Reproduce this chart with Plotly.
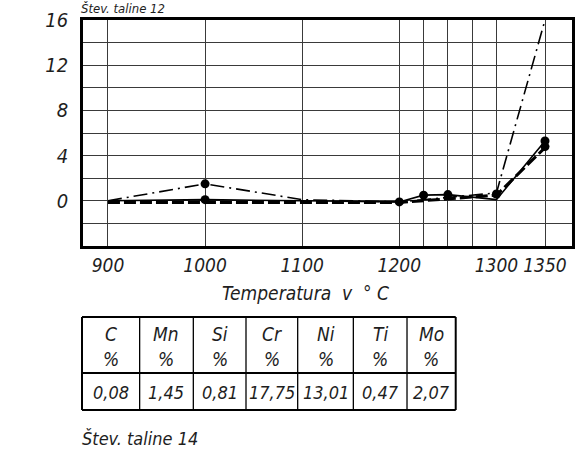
import plotly.graph_objects as go

# ---- data ----
temp_solid = [900, 1000, 1100, 1200, 1225, 1250, 1300, 1350]
val_solid = [0.0, 0.1, 0.0, -0.1, 0.5, 0.55, 0.1, 5.3]
temp_dash = [900, 1000, 1100, 1200, 1300, 1350]
val_dash = [-0.15, -0.15, -0.15, -0.15, 0.5, 4.7]
temp_dashdot = [900, 1000, 1100, 1200, 1300, 1350]
val_dashdot = [0.0, 1.5, 0.1, -0.1, 0.7, 16.0]

marker_temps = [1000, 1000, 1200, 1225, 1250, 1300, 1350, 1350]
marker_vals = [1.5, 0.1, -0.1, 0.5, 0.55, 0.6, 5.3, 4.8]

x_grid = [900, 1000, 1100, 1200, 1225, 1250, 1275, 1300, 1350]
x_labels = ["900", "1000", "1100", "1200", "", "", "", "1300", "1350"]
y_grid = [-2, 0, 2, 4, 6, 8, 10, 12, 14, 16]
y_labels = ["", "0", "", "4", "", "8", "", "12", "", "16"]

elements = ["C", "Mn", "Si", "Cr", "Ni", "Ti", "Mo"]
contents = ["0,08", "1,45", "0,81", "17,75", "13,01", "0,47", "2,07"]

x_title = "Temperatura  v  ° C"
top_caption = "Štev. taline 12"
bottom_caption = "Štev. taline 14"

FONT = "DejaVu Sans Condensed, DejaVu Sans"
W, H = 583, 460
L, R, T, B = 83, 575, 20, 246
INK = "#1e1e1e"


def px(x):
    return (x - L) / (R - L)


def py(y):
    return (B - y) / (B - T)


fig = go.Figure()
fig.add_trace(go.Scatter(x=temp_dashdot, y=val_dashdot, mode="lines",
                         line=dict(color="black", width=1.6, dash="14px,5px,2px,5px"),
                         showlegend=False))
fig.add_trace(go.Scatter(x=temp_dash, y=val_dash, mode="lines",
                         line=dict(color="black", width=3, dash="12px,4px"),
                         showlegend=False))
fig.add_trace(go.Scatter(x=temp_solid, y=val_solid, mode="lines",
                         line=dict(color="black", width=1.6),
                         showlegend=False))
fig.add_trace(go.Scatter(x=marker_temps, y=marker_vals, mode="markers",
                         marker=dict(color="black", size=9),
                         showlegend=False))

fig.update_xaxes(range=[874.3, 1377.8], tickvals=x_grid, ticktext=x_labels,
                 showgrid=True, gridcolor="#3a3a3a", gridwidth=1,
                 showline=True, linecolor="black", linewidth=2.5, mirror=True,
                 zeroline=False, ticks="", ticklen=0, tickangle=0,
                 tickfont=dict(family=FONT, size=19, style="italic", color=INK))
fig.update_yaxes(range=[-4, 16], tickvals=y_grid, ticktext=y_labels,
                 showgrid=True, gridcolor="#3a3a3a", gridwidth=1,
                 showline=True, linecolor="black", linewidth=2.5, mirror=True,
                 zeroline=False, ticks="outside", ticklen=8, tickcolor="rgba(0,0,0,0)",
                 tickfont=dict(family=FONT, size=20, style="italic", color=INK))

ann = []
font = dict(family=FONT, size=19, style="italic", color=INK)
ann.append(dict(text=x_title, x=px(307), y=py(293), xref="paper", yref="paper",
                showarrow=False, font=font, xanchor="center", yanchor="middle"))
ann.append(dict(text=bottom_caption, x=px(80), y=py(438), xref="paper", yref="paper",
                showarrow=False, font=dict(family=FONT, size=18, style="italic", color=INK),
                xanchor="left", yanchor="middle"))
ann.append(dict(text=top_caption, x=px(80), y=py(0), xref="paper", yref="paper",
                showarrow=False, font=dict(family=FONT, size=13, style="italic", color=INK),
                xanchor="left", yanchor="top", borderpad=0))

# table
col_edges = [82, 140, 194, 247, 299, 355, 409, 458]
row_edges = [317, 373, 410]
shapes = []
for i, xe in enumerate(col_edges):
    shapes.append(dict(type="line", xref="paper", yref="paper",
                       x0=px(xe), x1=px(xe), y0=py(row_edges[0]), y1=py(row_edges[-1]),
                       line=dict(color="black", width=2 if i in (0, len(col_edges) - 1) else 1.3)))
for j, ye in enumerate(row_edges):
    shapes.append(dict(type="line", xref="paper", yref="paper",
                       x0=px(col_edges[0]), x1=px(col_edges[-1]), y0=py(ye), y1=py(ye),
                       line=dict(color="black", width=2)))
for k in range(len(elements)):
    cx = (col_edges[k] + col_edges[k + 1]) / 2
    ann.append(dict(text=elements[k], x=px(cx), y=py(334), xref="paper", yref="paper",
                    showarrow=False, font=font, xanchor="center", yanchor="middle"))
    ann.append(dict(text="%", x=px(cx), y=py(359), xref="paper", yref="paper",
                    showarrow=False, font=font, xanchor="center", yanchor="middle"))
    ann.append(dict(text=contents[k], x=px(cx), y=py(392), xref="paper", yref="paper",
                    showarrow=False, font=dict(family=FONT, size=18, style="italic", color=INK),
                    xanchor="center", yanchor="middle"))

fig.update_layout(width=W, height=H, margin=dict(l=L, r=W - R, t=T, b=H - B),
                  paper_bgcolor="white", plot_bgcolor="white",
                  annotations=ann, shapes=shapes)

fig.write_html("out.html")
